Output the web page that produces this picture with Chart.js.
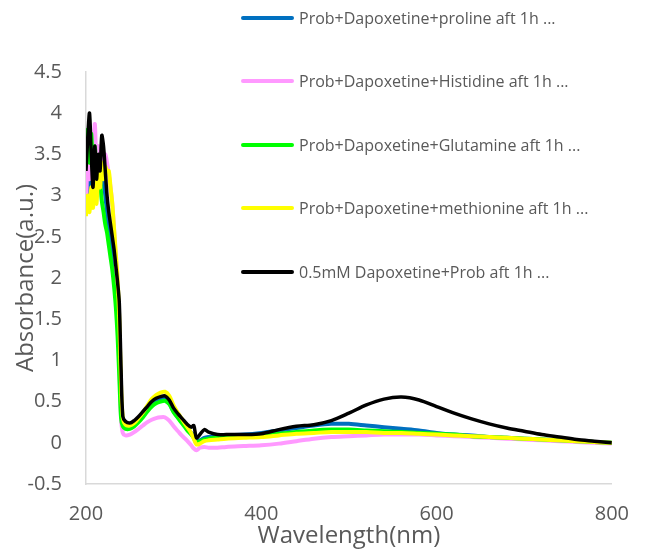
<!DOCTYPE html>
<html>
<head>
<meta charset="utf-8">
<script src="https://cdn.jsdelivr.net/npm/chart.js@4"></script>
<style>
  body { margin: 0; background: #fff; }
  #wrap { width: 647px; height: 554px; }
</style>
</head>
<body>
<div id="wrap"><canvas id="myChart" width="647" height="554"></canvas></div>
<script>
// wavelengths (nm)
const wavelengths = [200, 202, 204, 206, 208, 210, 212, 214, 216, 218, 220, 222, 224, 226, 228, 230, 232, 234, 236, 238, 240, 242,
    245, 250, 255, 260, 265, 270, 275, 280, 285, 290, 295, 300, 305, 310, 315, 320,
    323, 326, 330, 335, 340, 350, 360, 380,
    400, 420, 440, 460, 480, 500, 520, 540, 560, 580, 600, 620, 640, 660, 680, 700, 720, 740, 760, 780, 800];

const proline = [3.0, 3.7, 2.9, 3.3, 3.1, 3.5, 3.0, 3.3, 3.1, 3.4, 3.2, 3.0, 2.8, 2.6, 2.45, 2.3, 2.1, 1.9, 1.6, 1.2, 0.5, 0.25,
    0.2, 0.19, 0.22, 0.27, 0.33, 0.4, 0.46, 0.5, 0.52, 0.53, 0.48, 0.38, 0.31, 0.25, 0.18, 0.12,
    0.1, 0.02, 0.03, 0.06, 0.07, 0.08, 0.09, 0.1,
    0.12, 0.15, 0.18, 0.21, 0.23, 0.23, 0.21, 0.19, 0.17, 0.15, 0.12, 0.1, 0.09, 0.07, 0.06, 0.05, 0.04, 0.03, 0.02, 0.01, 0.0];

const histidine = [2.8, 3.5, 3.2, 3.7, 3.3, 3.87, 3.4, 3.6, 3.3, 3.5, 3.45, 3.5, 3.4, 3.25, 3.1, 2.9, 2.6, 2.2, 1.7, 1.0, 0.3, 0.12,
    0.09, 0.1, 0.13, 0.17, 0.21, 0.25, 0.28, 0.3, 0.31, 0.31, 0.27, 0.2, 0.14, 0.08, 0.03, -0.03,
    -0.07, -0.09, -0.06, -0.05, -0.06, -0.06, -0.05, -0.04,
    -0.03, -0.01, 0.02, 0.05, 0.07, 0.08, 0.09, 0.1, 0.1, 0.1, 0.09, 0.08, 0.07, 0.06, 0.05, 0.04, 0.03, 0.02, 0.01, 0.0, -0.01];

const glutamine = [3.5, 3.8, 3.4, 3.75, 3.3, 3.6, 3.3, 3.4, 3.2, 2.94, 2.8, 2.65, 2.55, 2.4, 2.25, 2.1, 1.9, 1.65, 1.3, 0.8, 0.3, 0.2,
    0.17, 0.17, 0.2, 0.25, 0.31, 0.38, 0.44, 0.48, 0.5, 0.51, 0.47, 0.37, 0.3, 0.23, 0.16, 0.1,
    0.06, 0.0, 0.02, 0.04, 0.05, 0.06, 0.07, 0.08,
    0.09, 0.11, 0.13, 0.15, 0.16, 0.16, 0.15, 0.14, 0.13, 0.12, 0.11, 0.1, 0.08, 0.07, 0.06, 0.05, 0.04, 0.03, 0.02, 0.01, 0.0];

const methionine = [2.75, 3.0, 2.8, 3.1, 2.85, 3.2, 2.9, 3.3, 3.1, 3.4, 3.2, 3.35, 3.3, 3.3, 3.1, 2.9, 2.6, 2.3, 2.0, 1.5, 0.7, 0.3,
    0.22, 0.21, 0.24, 0.3, 0.37, 0.45, 0.53, 0.58, 0.61, 0.62, 0.57, 0.45, 0.36, 0.28, 0.2, 0.12,
    0.05, -0.02, -0.01, 0.02, 0.03, 0.04, 0.05, 0.06,
    0.07, 0.09, 0.11, 0.12, 0.13, 0.13, 0.13, 0.12, 0.12, 0.11, 0.1, 0.09, 0.08, 0.07, 0.06, 0.05, 0.04, 0.03, 0.02, 0.01, 0.0];

const dapoxetine = [3.3, 3.7, 4.0, 3.5, 3.1, 3.6, 3.2, 3.5, 3.3, 3.73, 3.6, 3.3, 3.0, 2.8, 2.65, 2.5, 2.35, 2.15, 1.95, 1.7, 0.9, 0.32,
    0.26, 0.24, 0.27, 0.32, 0.38, 0.44, 0.5, 0.54, 0.56, 0.57, 0.52, 0.42, 0.35, 0.29, 0.23, 0.19,
    0.21, 0.06, 0.1, 0.16, 0.13, 0.1, 0.1, 0.1,
    0.11, 0.16, 0.2, 0.22, 0.27, 0.36, 0.46, 0.53, 0.555, 0.52, 0.44, 0.36, 0.29, 0.23, 0.18, 0.14, 0.1, 0.07, 0.04, 0.02, 0.0];

const seriesNames = [
    'Prob+Dapoxetine+proline aft 1h ...',
    'Prob+Dapoxetine+Histidine aft 1h ...',
    'Prob+Dapoxetine+Glutamine aft 1h ...',
    'Prob+Dapoxetine+methionine aft 1h ...',
    '0.5mM Dapoxetine+Prob aft 1h ...'
];
const seriesValues = [proline, histidine, glutamine, methionine, dapoxetine];
const seriesColours = ['#0070C0', '#FF99FF', '#00FF00', '#FFFF00', '#000000'];
const seriesWidths = [4, 4, 4, 4, 3.5];

const textColour = '#595959';
const fontFamily = '"Open Sans", "Noto Sans", sans-serif';

function toPoints(values) {
    return wavelengths.map((w, i) => ({ x: w, y: values[i] }));
}

const datasets = seriesNames.map((name, i) => ({
    label: name,
    data: toPoints(seriesValues[i]),
    borderColor: seriesColours[i],
    backgroundColor: seriesColours[i],
    borderWidth: seriesWidths[i],
    pointRadius: 0,
    tension: 0.3,
    order: seriesNames.length - i   // later series drawn on top
}));

// legend drawn over the plot, like the original
const floatingLegend = {
    id: 'floatingLegend',
    afterDraw(chart) {
        const ctx = chart.ctx;
        const rowY = [18, 81, 145, 208, 272];
        ctx.save();
        ctx.font = '16px ' + fontFamily;
        ctx.textBaseline = 'middle';
        ctx.lineCap = 'round';
        chart.data.datasets.forEach((ds, i) => {
            ctx.strokeStyle = ds.borderColor;
            ctx.lineWidth = 4;
            ctx.beginPath();
            ctx.moveTo(243, rowY[i]);
            ctx.lineTo(292, rowY[i]);
            ctx.stroke();
            ctx.fillStyle = textColour;
            ctx.fillText(ds.label, 299, rowY[i] + 1);
        });
        ctx.restore();
    }
};

const config = {
    type: 'line',
    data: { datasets: datasets },
    options: {
        responsive: false,
        animation: false,
        layout: {
            padding: { top: 72, right: 35, bottom: 0, left: 0 }
        },
        plugins: {
            legend: { display: false },
            tooltip: { enabled: false }
        },
        scales: {
            x: {
                type: 'linear',
                min: 200,
                max: 800,
                ticks: {
                    stepSize: 200,
                    color: textColour,
                    padding: 18,
                    font: { size: 20, family: fontFamily }
                },
                grid: { display: false, drawTicks: false },
                border: { display: true, color: '#d9d9d9', width: 1.5 },
                title: {
                    display: true,
                    text: 'Wavelength(nm)',
                    color: textColour,
                    padding: { top: 0, bottom: 3 },
                    font: { size: 24, family: fontFamily }
                },
                afterFit(scale) { scale.height = 70; }
            },
            y: {
                min: -0.5,
                max: 4.5,
                ticks: {
                    stepSize: 0.5,
                    color: textColour,
                    padding: 24,
                    font: { size: 20, family: fontFamily },
                    callback: (value) => String(Number(value.toFixed(1)))
                },
                grid: { display: false, drawTicks: false },
                border: { display: true, color: '#d9d9d9', width: 1.5 },
                title: {
                    display: true,
                    text: 'Absorbance(a.u.)',
                    color: textColour,
                    padding: { top: 12, bottom: 0 },
                    font: { size: 24, family: fontFamily }
                },
                afterFit(scale) { scale.width = 86; }
            }
        }
    },
    plugins: [floatingLegend]
};

const myChart = new Chart(document.getElementById('myChart'), config);
</script>
</body>
</html>
